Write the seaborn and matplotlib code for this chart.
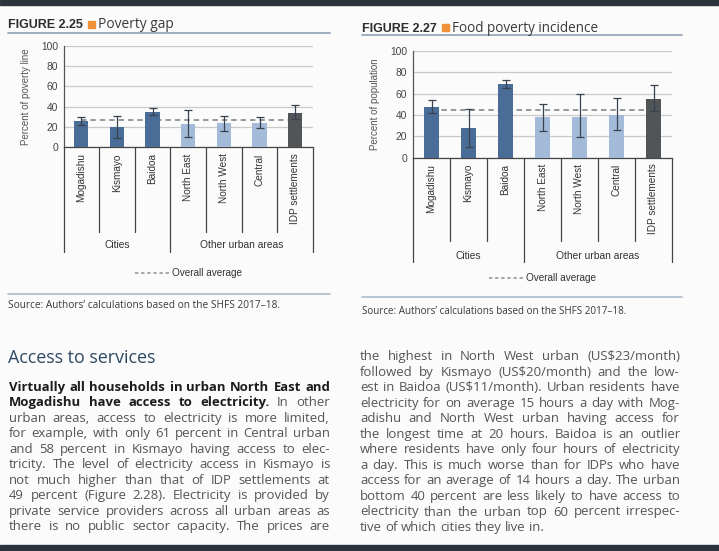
import numpy as np
import pandas as pd
import matplotlib
matplotlib.use("Agg")
import matplotlib.pyplot as plt
import matplotlib.transforms as mtransforms
from matplotlib.lines import Line2D
from matplotlib.patches import Rectangle
import seaborn as sns

# ---------------- data ----------------
categories = ["Mogadishu", "Kismayo", "Baidoa", "North East", "North West",
              "Central", "IDP settlements"]
group_names = ["Cities", "Other urban areas"]
group_first = [0, 3]
group_last = [2, 6]
y_ticks = [0, 20, 40, 60, 80, 100]

gap_values = [26, 20, 35, 23, 24, 24, 34]
gap_low = [22, 9, 32, 10, 16, 19, 28]
gap_high = [30, 31, 39, 37, 31, 30, 42]
gap_average = 27

food_values = [47, 28, 69, 38, 38, 40, 55]
food_low = [42, 10, 65, 25, 19, 26, 44]
food_high = [54, 46, 73, 50, 60, 56, 68]
food_average = 45

bar_colors = ["#4a6d97", "#4a6d97", "#4a6d97", "#a3bbd9", "#a3bbd9", "#a3bbd9", "#525558"]

left_lines = [
    [("Virtually all households in urban North East and", True)],
    [("Mogadishu have access to electricity.", True), ("In other", False)],
    [("urban areas, access to electricity is more limited,", False)],
    [("for example, with only 61 percent in Central urban", False)],
    [("and 58 percent in Kismayo having access to elec-", False)],
    [("tricity. The level of electricity access in Kismayo is", False)],
    [("not much higher than that of IDP settlements at", False)],
    [("49 percent (Figure 2.28). Electricity is provided by", False)],
    [("private service providers across all urban areas as", False)],
    [("there is no public sector capacity. The prices are", False)],
]
right_lines = [
    [("the highest in North West urban (US$23/month)", False)],
    [("followed by Kismayo (US$20/month) and the low-", False)],
    [("est in Baidoa (US$11/month). Urban residents have", False)],
    [("electricity for on average 15 hours a day with Mog-", False)],
    [("adishu and North West urban having access for", False)],
    [("the longest time at 20 hours. Baidoa is an outlier", False)],
    [("where residents have only four hours of electricity", False)],
    [("a day. This is much worse than for IDPs who have", False)],
    [("access for an average of 14 hours a day. The urban", False)],
    [("bottom 40 percent are less likely to have access to", False)],
    [("electricity than the urban top 60 percent irrespec-", False)],
    [("tive of which cities they live in.", False)],
]

# ---------------- style ----------------
sns.set_theme(style="white")
CHART_FONT = "Liberation Sans"
BODY_FONT = "Open Sans"
plt.rcParams["font.family"] = [CHART_FONT, "DejaVu Sans"]

W, H = 719, 551
fig = plt.figure(figsize=(W / 100, H / 100), dpi=100)
fig.patch.set_facecolor("#fbfbfb")
renderer = fig.canvas.get_renderer()


def fx(px):
    return px / W


def fy(py):
    return 1 - py / H


def text_width(s, size, family, weight="normal"):
    t = fig.text(0, 0, s, fontsize=size, family=family, weight=weight)
    w = t.get_window_extent(renderer).width
    t.remove()
    return w


def fitted(s, target_px, family, weight="normal"):
    return 10 * target_px / text_width(s, 10, family, weight)


# page bands
fig.add_artist(Rectangle((0, fy(4.5)), 1, 4.5 / H, transform=fig.transFigure,
                         color="#2b333c", zorder=0))
fig.add_artist(Rectangle((0, 0), 1, 6 / H, transform=fig.transFigure,
                         color="#2b333c", zorder=0))


def panel(values, low, high, average, ylabel, fig_no, title, geo):
    x0, x1, ytop, ybot = geo["axes"]
    ax = fig.add_axes([fx(x0), fy(ybot), fx(x1 - x0), (ybot - ytop) / H])
    ax.set_facecolor("none")
    df = pd.DataFrame({"category": categories, "value": values})
    sns.barplot(data=df, x="category", y="value", hue="category",
                palette=bar_colors, legend=False, width=0.4, saturation=1,
                linewidth=0, ax=ax, zorder=3)
    xs = np.arange(len(categories))
    v = np.array(values, float)
    lo = np.array(low, float)
    hi = np.array(high, float)
    ax.errorbar(xs, v, yerr=[v - lo, hi - v], fmt="none", ecolor="#38434f",
                elinewidth=0.9, capsize=3, capthick=0.9, zorder=4)
    ax.hlines(average, xs[0], xs[-1], colors="#8c9195", linestyles=(0, (3, 2.2)),
              lw=1.3, zorder=2.5)
    ax.set_ylim(0, 100)
    ax.set_xlim(-0.5, len(categories) - 0.5)
    ax.set_yticks(y_ticks)
    ax.set_axisbelow(True)
    ax.grid(axis="y", color="#cacaca", lw=0.9)
    ax.grid(axis="x", visible=False)
    for s in ["top", "right"]:
        ax.spines[s].set_visible(False)
    ax.spines["left"].set_color("#555555")
    ax.spines["bottom"].set_color("#444444")
    ax.spines["left"].set_linewidth(0.9)
    ax.spines["bottom"].set_linewidth(0.9)
    ax.tick_params(axis="y", direction="inout", length=4, width=0.8,
                   color="#555555", labelsize=7.4, labelcolor="#444444", pad=2)
    ax.tick_params(axis="x", length=0, pad=4.5, labelsize=7.2, labelcolor="#333333")
    ax.set_xticks(xs)
    ax.set_xticklabels(categories, rotation=90, va="top", ha="center")
    ax.set_xlabel("")
    ax.set_ylabel(ylabel, fontsize=7, color="#555555")
    ax.yaxis.set_label_coords((geo["ylabel_x"] - x0) / (x1 - x0), 0.5)

    trans = mtransforms.blended_transform_factory(ax.transData, fig.transFigure)
    long_edges = {group_first[i] - 0.5 for i in range(len(group_first))}
    long_edges.add(group_last[-1] + 0.5)
    for b in np.arange(-0.5, len(categories), 1.0):
        bottom = geo["long_bottom"] if b in long_edges else geo["short_bottom"]
        ax.add_line(Line2D([b, b], [fy(ybot), fy(bottom)], transform=trans,
                           color="#444444", lw=0.9, clip_on=False))
    for name, a, b in zip(group_names, group_first, group_last):
        ax.text((a + b) / 2, fy(geo["group_y"]), name, transform=trans,
                ha="center", va="center", fontsize=7.4, color="#333333")

    handle = Line2D([], [], color="#8c9195", ls=(0, (2.2, 1.8)), lw=1.1)
    ax.legend(handles=[handle], labels=["Overall average"], loc="center",
              bbox_to_anchor=(0.5, fy(geo["legend_y"])),
              bbox_transform=mtransforms.blended_transform_factory(ax.transAxes, fig.transFigure),
              frameon=False, fontsize=7.2, handlelength=3.4, handletextpad=0.3,
              labelcolor="#333333")

    # title
    tx0, tx1, ty, uy = geo["title"]
    t1 = fig.text(fx(tx0), fy(ty + 4.5), fig_no, fontsize=9, family=CHART_FONT,
                  weight="bold", color="#2d2d2d", va="baseline", ha="left")
    end = tx0 + t1.get_window_extent(renderer).width
    sq = end + 5
    fig.add_artist(Rectangle((fx(sq), fy(ty + 4)), fx(7), 7 / H,
                             transform=fig.transFigure, color="#f0923a"))
    fs2 = fitted(title, geo["title_w"], BODY_FONT)
    fig.text(fx(sq + 10), fy(ty + 4.5), title, fontsize=fs2, family=BODY_FONT,
             color="#3a3a3a", va="baseline", ha="left")
    fig.add_artist(Line2D([fx(tx0), fx(tx1)], [fy(uy), fy(uy)], color="#97a9b8",
                          lw=1.3, transform=fig.transFigure))
    sy, srcy = geo["source_line"], geo["source_y"]
    fig.add_artist(Line2D([fx(tx0), fx(tx1)], [fy(sy), fy(sy)], color="#a9bccb",
                          lw=1.2, transform=fig.transFigure))
    src = "Source: Authors\u2019 calculations based on the SHFS 2017\u201318."
    fs3 = fitted(src, geo["source_w"], BODY_FONT)
    fig.text(fx(tx0), fy(srcy), src, fontsize=fs3, family=BODY_FONT,
             color="#3a3a3a", va="center", ha="left")
    return ax


left_geo = dict(axes=(63.5, 313, 46, 147), ylabel_x=31, long_bottom=252,
                short_bottom=232, group_y=245, legend_y=273,
                title=(8, 330, 24, 33), title_w=76,
                source_line=294, source_y=306, source_w=270)
right_geo = dict(axes=(413, 672, 51, 157.5), ylabel_x=380, long_bottom=262,
                 short_bottom=241, group_y=256, legend_y=278,
                 title=(362, 682, 27, 35), title_w=146,
                 source_line=297, source_y=312, source_w=266)

panel(gap_values, gap_low, gap_high, gap_average, "Percent of poverty line",
      "FIGURE 2.25", "Poverty gap", left_geo)
panel(food_values, food_low, food_high, food_average, "Percent of population",
      "FIGURE 2.27", "Food poverty incidence", right_geo)

# ---------------- body text ----------------
hs = fitted("Access to services", 148, BODY_FONT)
fig.text(fx(8), fy(358), "Access to services", fontsize=hs, family=BODY_FONT,
         color="#2c4862", va="center", ha="left")


def line_string(segs):
    return " ".join(t for t, _ in segs)


col_w = 321
body_size = 9.6
for lines in (left_lines, right_lines):
    for k, segs in enumerate(lines):
        if any(b for _, b in segs):
            continue
        if lines is right_lines and k == len(lines) - 1:
            continue
        w = text_width(line_string(segs), body_size, BODY_FONT)
        if w > col_w - 6:
            body_size *= (col_w - 6) / w

bold_size = body_size
for segs in left_lines:
    if all(b for _, b in segs):
        w = text_width(line_string(segs), bold_size, BODY_FONT, "bold")
        if w > col_w - 8:
            bold_size *= (col_w - 8) / w


def justified(lines, x0, x1, y0, dy, last_left):
    for i, segs in enumerate(lines):
        y = y0 + dy * i
        words = []
        for text, bold in segs:
            for wd in text.split():
                words.append((wd, bold))
        objs = []
        for wd, bold in words:
            objs.append(fig.text(0, fy(y + 4), wd,
                                 fontsize=bold_size if bold else body_size,
                                 family=BODY_FONT,
                                 weight="bold" if bold else "normal",
                                 color="#1c1c1c" if bold else "#555555",
                                 va="baseline", ha="left"))
        widths = [o.get_window_extent(renderer).width for o in objs]
        if last_left and i == len(lines) - 1:
            gap = body_size * 100 / 72 * 0.26
        else:
            gap = (x1 - x0 - sum(widths)) / max(len(objs) - 1, 1)
        x = x0
        for o, w in zip(objs, widths):
            o.set_x(fx(x))
            x += w + gap


justified(left_lines, 9, 330, 387, 15.45, False)
justified(right_lines, 360, 680, 356, 15.55, True)

fig.savefig("out.png", dpi=100, facecolor=fig.get_facecolor())
